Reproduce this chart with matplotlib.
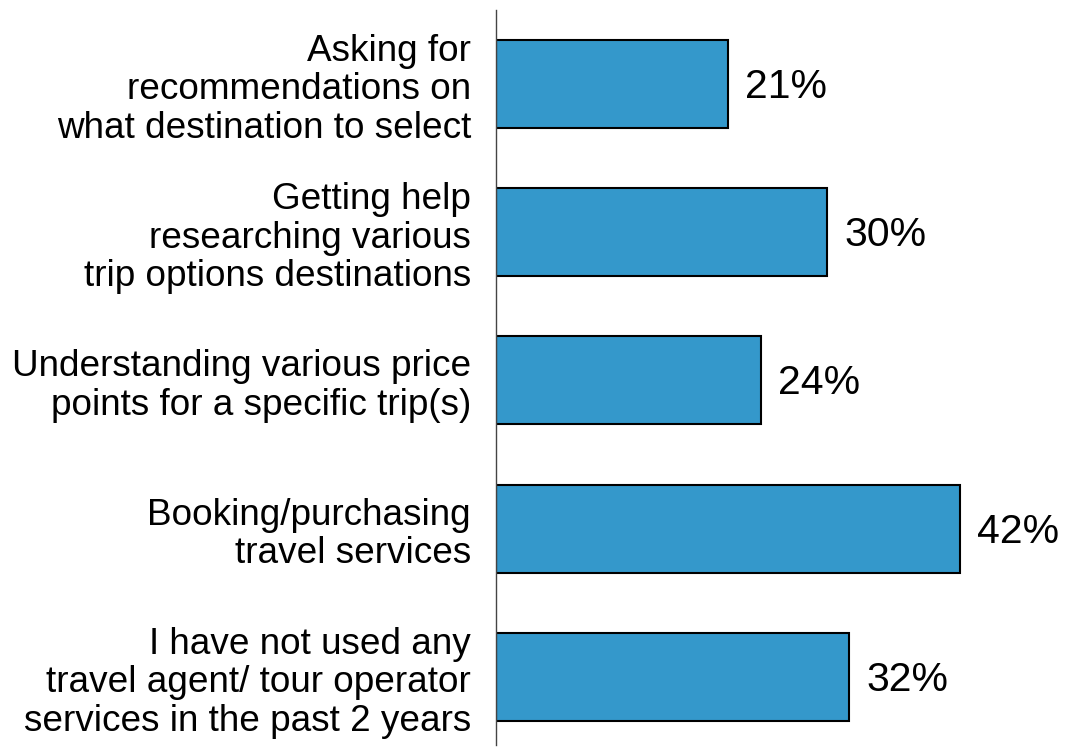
import matplotlib.pyplot as plt

categories = [
    "Asking for\nrecommendations on\nwhat destination to select",
    "Getting help\nresearching various\ntrip options destinations",
    "Understanding various price\npoints for a specific trip(s)",
    "Booking/purchasing\ntravel services",
    "I have not used any\ntravel agent/ tour operator\nservices in the past 2 years",
]
values = [21, 30, 24, 42, 32]

plt.rcParams['font.family'] = ['Liberation Sans', 'DejaVu Sans']

fig = plt.figure(figsize=(10.66, 7.47), dpi=100)
ax = fig.add_axes([496 / 1066, 1 - 745 / 747, 1 - 496 / 1066, 735 / 747])

pos = list(range(len(categories)))
ax.barh(pos, values, height=0.594, color='#3498cb', edgecolor='black', linewidth=1.5)

for p, v in zip(pos, values):
    ax.text(v + 1.5, p + 0.02, f"{v}%", va='center', ha='left', fontsize=29.5)

ax.set_yticks(pos)
ax.set_yticklabels(categories, fontsize=26.6, linespacing=1.13)
ax.tick_params(axis='y', length=0, pad=18)
ax.set_xticks([])
ax.set_xlim(0, 51.6)
ax.set_ylim(4.46, -0.5)

for s in ['top', 'right', 'bottom']:
    ax.spines[s].set_visible(False)
ax.spines['left'].set_linewidth(1.0)
ax.spines['left'].set_color('#444444')

fig.savefig('out.png', dpi=100)
